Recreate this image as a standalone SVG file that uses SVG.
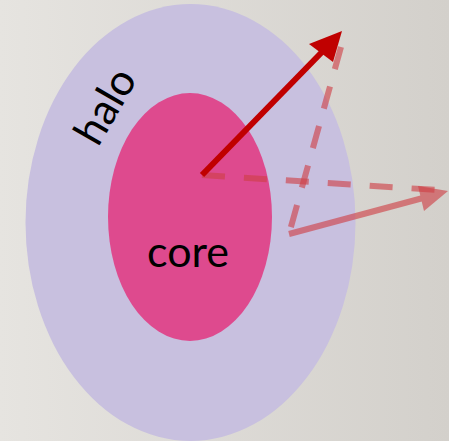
<svg xmlns="http://www.w3.org/2000/svg" width="449" height="441" viewBox="0 0 449 441">
<defs>
<linearGradient id="bg" x1="0" y1="0" x2="1" y2="0">
<stop offset="0" stop-color="#e6e4e0"/>
<stop offset="1" stop-color="#d3d0cb"/>
</linearGradient>
<style>
.lbl{font-family:Lato,"Open Sans","Liberation Sans",sans-serif;font-size:43px;fill:#000}
.faint{stroke:#cf3f45;stroke-width:6;fill:none}
</style>
</defs>
<rect width="449" height="441" fill="url(#bg)"/>
<g id="halo">
<ellipse cx="190.5" cy="222.5" rx="165" ry="218.5" fill="#c8c0df"/>
<text class="lbl" transform="translate(98,148) rotate(-60)">halo</text>
</g>
<g id="core">
<ellipse cx="190" cy="217" rx="82" ry="124" fill="#de4a8e"/>
<text class="lbl" x="188" y="267" text-anchor="middle">core</text>
</g>
<g id="connectors">
<g opacity="0.62">
<line class="faint" x1="341" y1="47" x2="289" y2="234" stroke-dasharray="23 18"/>
</g>
<g opacity="0.62">
<line class="faint" x1="202" y1="175" x2="437" y2="190" stroke-dasharray="23 19"/>
</g>
<g opacity="0.62">
<line class="faint" x1="289" y1="234" x2="423" y2="198"/>
<polygon points="448,191 418,186 424,211" fill="#cf3f45"/>
</g>
<line x1="202" y1="175" x2="322" y2="52" stroke="#c00000" stroke-width="6"/>
<polygon points="342,31 309,44 333,62" fill="#c00000"/>
</g>
</svg>
